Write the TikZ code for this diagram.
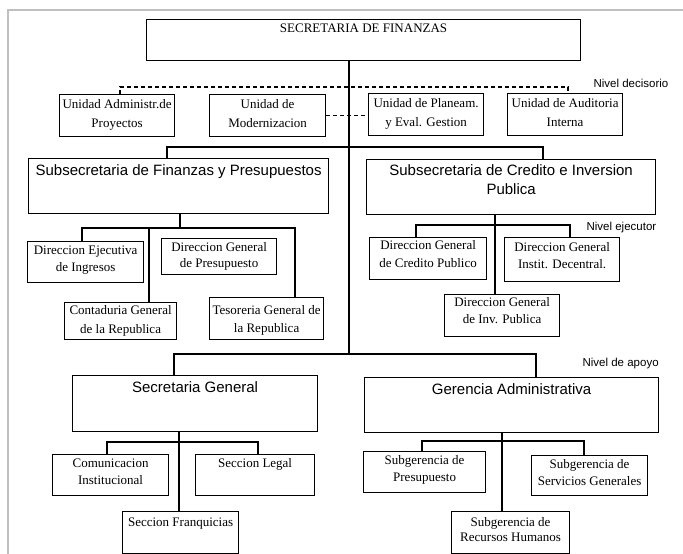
\documentclass[tikz,border=0pt]{standalone}
\usepackage{fontspec}
\setmainfont{Liberation Serif}
\newfontfamily\arialf{Liberation Sans}
\newcommand\bxt[5]{\parbox[c][#2pt][t]{#1pt}{\centering\baselineskip=#4pt\rule{0pt}{#3pt}#5\par}}
\begin{document}
\begin{tikzpicture}[x=1pt,y=-1pt,line width=1.2pt,
  bx/.style={draw, inner sep=0pt, anchor=north west, font=\fontsize{13}{18}\selectfont},
  hbx/.style={draw, inner sep=0pt, anchor=north west, font=\arialf\fontsize{15}{19}\selectfont},
  lvl/.style={inner sep=0pt, anchor=base west, font=\arialf\fontsize{11.5}{13}\selectfont},
  frame/.style={draw=gray!50, line width=2pt},
  dsh/.style={dash pattern=on 4pt off 3pt}]
\useasboundingbox (0,0) rectangle (683,554);
\draw[frame] (8,554) -- (8,10) -- (683,10);
% boxes
\node[bx] (sec) at (146,19) {\bxt{434}{41}{13}{18}{SECRETARIA DE FINANZAS}};
\node[bx] (u1) at (59,94) {\bxt{115}{42}{14}{19}{Unidad Administr.de\\Proyectos}};
\node[bx] (u2) at (209,94) {\bxt{116}{42}{14}{19}{Unidad de\\Modernizacion}};
\node[bx] (u3) at (368,93) {\bxt{115}{42}{14}{19}{Unidad de Planeam.\\y Eval. Gestion}};
\node[bx] (u4) at (507,93) {\bxt{115}{42}{14}{19}{Unidad de Auditoria\\Interna}};
\node[hbx] (sf) at (28,158) {\bxt{300}{55}{17}{19}{Subsecretaria de Finanzas y Presupuestos}};
\node[hbx] (sc) at (366,159) {\bxt{289}{55}{16}{19}{Subsecretaria de Credito e Inversion\\Publica}};
\node[bx] (d1) at (27,241) {\bxt{116}{41}{13}{17}{Direccion Ejecutiva\\de Ingresos}};
\node[bx] (d2) at (161,238) {\bxt{115}{36}{13}{16}{Direccion General\\de Presupuesto}};
\node[bx] (d3) at (64,302) {\bxt{112}{37}{12}{19}{Contaduria General\\de la Republica}};
\node[bx] (d4) at (209,297) {\bxt{114}{42}{17}{18}{Tesoreria General de\\la Republica}};
\node[bx] (k1) at (369,237) {\bxt{117}{42}{12}{18}{Direccion General\\de Credito Publico}};
\node[bx] (k2) at (504,237) {\bxt{115}{44}{14}{17}{Direccion General\\Instit. Decentral.}};
\node[bx] (k3) at (444,294) {\bxt{115}{42}{12}{17}{Direccion General\\de Inv. Publica}};
\node[hbx] (sg) at (72,375) {\bxt{245}{56}{17}{19}{Secretaria General}};
\node[hbx] (ga) at (364,377) {\bxt{294}{55}{17}{19}{Gerencia Administrativa}};
\node[bx] (s1) at (52,454) {\bxt{116}{41}{13}{17}{Comunicacion\\Institucional}};
\node[bx] (s2) at (195,454) {\bxt{119}{41}{13}{17}{Seccion Legal}};
\node[bx] (s3) at (122,511) {\bxt{116}{42}{15}{17}{Seccion Franquicias}};
\node[bx] (g1) at (363,451) {\bxt{122}{41}{13}{17}{Subgerencia de\\Presupuesto}};
\node[bx] (g2) at (531,455) {\bxt{116}{40}{13}{17}{Subgerencia de\\Servicios Generales}};
\node[bx] (g3) at (451,511) {\bxt{118}{42}{15}{15}{Subgerencia de\\Recursos Humanos}};
% level labels
\node[lvl] (n1) at (593,87) {Nivel decisorio};
\node[lvl] (n2) at (586,230) {Nivel ejecutor};
\node[lvl] (n3) at (582,366) {Nivel de apoyo};
% junction coordinates
\coordinate (spine) at (349,354);
\coordinate (pa1) at (167,147); \coordinate (pa2) at (543,147);
\coordinate (pb1) at (174,354); \coordinate (pb2) at (536,354);
\coordinate (pc1) at (120,87);  \coordinate (pc2) at (568,87);
\coordinate (pd0) at (180,228); \coordinate (pdl) at (82,228);
\coordinate (pdm) at (149,228); \coordinate (pdr) at (295,228);
\coordinate (pe0) at (495,225); \coordinate (pel) at (416,225); \coordinate (per) at (570,225);
\coordinate (pf0) at (179,442); \coordinate (pfl) at (107,442); \coordinate (pfr) at (258,442);
\coordinate (pg0) at (502,441); \coordinate (pgl) at (422,441); \coordinate (pgr) at (584,441);
% connectors
\draw (sec.south -| spine) -- (spine);
\draw (sf.north -| pa1) -- (pa1) -- (pa2) -- (sc.north -| pa2);
\draw (sg.north -| pb1) -- (pb1) -- (pb2) -- (ga.north -| pb2);
\draw[dsh] (u1.north -| pc1) -- (pc1) -- (pc2) -- (u4.north -| pc2);
\draw[dsh] (u2.east) -- (u3.west |- u2.east);
\draw (sf.south -| pd0) -- (pd0);
\draw (d1.north -| pdl) -- (pdl) -- (pdr) -- (d4.north -| pdr);
\draw (pdm) -- (d3.north -| pdm);
\draw (sc.south -| pe0) -- (k3.north -| pe0);
\draw (k1.north -| pel) -- (pel) -- (per) -- (k2.north -| per);
\draw (sg.south -| pf0) -- (s3.north -| pf0);
\draw (s1.north -| pfl) -- (pfl) -- (pfr) -- (s2.north -| pfr);
\draw (ga.south -| pg0) -- (g3.north -| pg0);
\draw (g1.north -| pgl) -- (pgl) -- (pgr) -- (g2.north -| pgr);
\end{tikzpicture}
\end{document}
